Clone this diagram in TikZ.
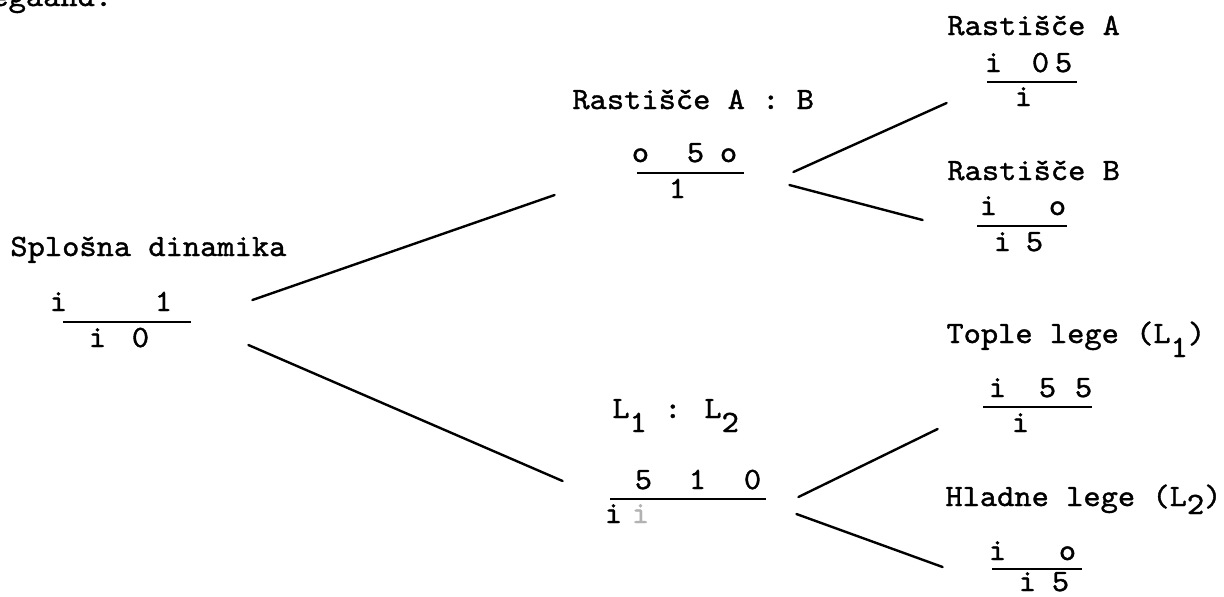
\documentclass[tikz,border=0pt]{standalone}
\usepackage{fontspec}
\usepackage{tikz}
\newfontfamily\tw{lmmono10-regular.otf}[FakeStretch=1.06, FakeBold=1.2]
\newcommand{\lowr}[2][7pt]{\raisebox{-#1}{#2}}

\begin{document}
\begin{tikzpicture}[
  x=0.5pt, y=-0.5pt,
  % --- typed text ---
  lbl/.style={font=\tw\fontsize{15.5}{18}\selectfont, inner sep=0pt, anchor=base west},
  % --- fraction bars ---
  fbar/.style={fill=black, inner sep=0pt, minimum height=1.1pt},
  % --- branches ---
  edge/.style={line width=1.2pt, line cap=round},
]
\useasboundingbox (0,0) rectangle (1224,596);

% ===================== ROOT =====================

\node[lbl] (cut) at (-9,6) {egaand.};

\node[lbl] (sd) at (10,256) {Splošna dinamika};
\node[lbl] (sdnum) at (49.4,311) {i\hspace{43.9pt}1};
\node[fbar, minimum width=64pt] (sdbar) at (127,322) {};
\node[lbl] (sdden) at (88.4,347) {i\hspace{12.9pt}0};

% ===================== LEVEL 1 =====================

\node[lbl] (ab) at (572,109) {Rastišče A : B};
\node[lbl] (abnum) at (631.4,162) {o\hspace{18.9pt}5\hspace{7.9pt}o};
\node[fbar, minimum width=53.5pt] (abbar) at (690.5,173) {};
\node[lbl] (abden) at (668.4,198) {1};

\node[lbl] (ll) at (612,418) {L\lowr{1} : L\lowr{2}};
\node[lbl] (llnum) at (634.4,489) {5\hspace{18.4pt}1\hspace{18.9pt}0};
\node[fbar, minimum width=78pt] (llbar) at (688,499) {};
\node[lbl] (llden) at (604.4,523) {i\hspace{4.9pt}\textcolor{black!30}{i}};

% ===================== LEVEL 2 =====================

\node[lbl] (ra) at (947,35) {Rastišče A};
\node[lbl] (ranum) at (984.4,72) {i\hspace{14.9pt}0\hspace{2.9pt}5};
\node[fbar, minimum width=45pt] (rabar) at (1032,82) {};
\node[lbl] (raden) at (1014.4,106) {i};

\node[lbl] (rb) at (947,180) {Rastišče B};
\node[lbl] (rbnum) at (979.4,215) {i\hspace{25.9pt}o};
\node[fbar, minimum width=45pt] (rbbar) at (1022,226) {};
\node[lbl] (rbden) at (993.4,251) {i\hspace{7.4pt}5};

\node[lbl] (tl) at (946,343) {Tople lege (L\lowr{1})};
\node[lbl] (tlnum) at (988.4,397) {i\hspace{16.4pt}5\hspace{9.4pt}5};
\node[fbar, minimum width=54.5pt] (tlbar) at (1037.5,407) {};
\node[lbl] (tlden) at (1011.4,432) {i};

\node[lbl] (hl) at (945,506) {Hladne lege (L\lowr[4pt]{2})};
\node[lbl] (hlnum) at (988.4,560) {i\hspace{26.4pt}o};
\node[fbar, minimum width=45pt] (hlbar) at (1037,569) {};
\node[lbl] (hlden) at (1018.4,591) {i\hspace{7.9pt}5};

% ===================== BRANCHES =====================

\draw[edge] ([shift={(61,-22)}]sdbar.east) -- ([shift={(-82,22)}]abbar.west);
\draw[edge] ([shift={(57,23)}]sdbar.east) -- ([shift={(-47,-18)}]llbar.west);

\draw[edge] ([shift={(49,-1)}]abbar.east) -- ([shift={(-40,21)}]rabar.west);
\draw[edge] ([shift={(45,12)}]abbar.east) -- ([shift={(-54,-6)}]rbbar.west);

\draw[edge] ([shift={(32,-2)}]llbar.east) -- ([shift={(-45,22)}]tlbar.west);
\draw[edge] ([shift={(30,15)}]llbar.east) -- ([shift={(-49,-2)}]hlbar.west);

\end{tikzpicture}
\end{document}
